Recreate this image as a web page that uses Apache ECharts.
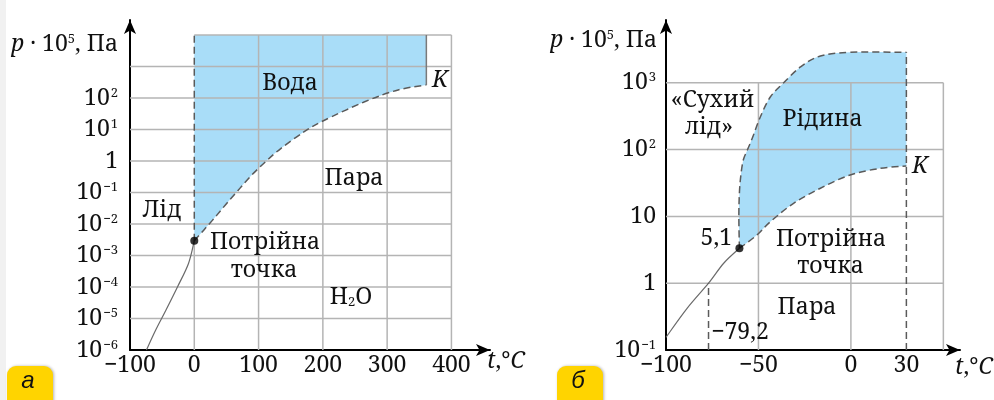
<!DOCTYPE html>
<html>
<head>
<meta charset="utf-8">
<script src="https://cdn.jsdelivr.net/npm/echarts@6/dist/echarts.min.js"></script>
<style>
  html, body { margin: 0; padding: 0; background: #fff; }
  #chart { width: 994px; height: 400px; }
</style>
</head>
<body>
<div id="chart"></div>
<script>
    var SERIF = 'Noto Serif';
    var FS = 23;
    var BLUE = '#a9ddf8', GRID = '#b4b4b4', CURVE = '#5a5a5a';

    // ---- panel a : H2O ----
    var ticksA = [-100, 0, 100, 200, 300, 400];
    var expA = [-6, -5, -4, -3, -2, -1, 0, 1, 2];
    var gridXA = [100, 200, 300, 400];
    var gridExpA = [-5, -4, -3, -2, -1, 0, 1, 2, 3];
    var topA = 1e4;
    var tripleA = [0, 0.00295];
    var critA = [361, 259];
    var vapA = [[0, 0.00295], [15, 0.0065], [32, 0.0161], [49, 0.0416], [68, 0.116], [88, 0.334],
                [112, 1.0], [135, 2.53], [171, 8.5], [200, 18.6], [265, 76], [317, 180], [361, 259]];
    var subA = [[-74.5, 1e-6], [-60, 4.3e-6], [-44, 1.86e-5], [-26, 1.02e-4], [-9, 5.6e-4], [0, 0.00295]];

    // ---- panel b : CO2 ----
    var ticksB = [-100, -50, 0, 30];
    var expB = [-1, 0, 1, 2, 3];
    var gridXB = [-50, 0, 50];
    var gridExpB = [0, 1, 2, 3];
    var tripleB = [-60.3, 3.33];
    var critB = [30, 57];
    var sublT = -77;   // позначка −79,2
    var vapB = [[-60.3, 3.33], [-50.8, 5.27], [-43.6, 8.3], [-31, 15.7], [-16.5, 26.4], [-0.4, 41.7], [16, 52.5], [30, 57]];
    var subB = [[-100, 0.155], [-88.6, 0.42], [-77, 1.0], [-68.8, 1.99], [-60.3, 3.33]];
    var meltB = [[-60.3, 3.33], [-60.6, 9.8], [-60.3, 22.4], [-59.5, 41.7], [-58.2, 69.8], [-56, 98.6], [-53.3, 149],
                 [-49, 308], [-43.6, 612], [-36.5, 993], [-27.3, 1725], [-16.5, 2520], [-0.3, 2860], [30, 2860]];

    var chart = echarts.init(document.getElementById('chart'));

    var richNum = {
        b: { fontFamily: SERIF, fontSize: FS, color: '#111' },
        s: { fontFamily: SERIF, fontSize: 13, color: '#111', verticalAlign: 'top', padding: [0, 0, 0, 1] }
    };

    function minus(v) { return v < 0 ? '\u2212' + (-v) : '' + v; }
    function pow10(e) { return Math.pow(10, e); }

    function powLabel(v, plainTen) {
        var e = Math.round(Math.log(v) / Math.LN10);
        if (e === 0) return '1';
        if (e === 1 && plainTen) return '10';
        return '{b|10}{s|' + minus(e) + '}';
    }

    function xAxisOpt(idx, min, max, ticks) {
        return {
            gridIndex: idx, type: 'value', min: min, max: max,
            axisLine: { onZero: false, symbol: ['none', 'arrow'], symbolSize: [9, 14], lineStyle: { color: '#000', width: 2 } },
            axisTick: { show: false },
            splitLine: { show: false },
            axisLabel: {
                customValues: ticks, margin: 4, fontFamily: SERIF, fontSize: FS, color: '#111', hideOverlap: false,
                formatter: function (v) { return minus(v); }
            }
        };
    }

    function yAxisOpt(idx, min, max, exps, plainTen, margin) {
        return {
            gridIndex: idx, type: 'log', logBase: 10, min: min, max: max,
            axisLine: { onZero: false, symbol: ['none', 'arrow'], symbolSize: [9, 14], lineStyle: { color: '#000', width: 2 } },
            axisTick: { show: false },
            splitLine: { show: false },
            axisLabel: {
                customValues: exps.map(pow10),
                margin: margin, fontFamily: SERIF, fontSize: FS, color: '#111', rich: richNum, hideOverlap: false,
                formatter: function (v) { return powLabel(v, plainTen); }
            }
        };
    }

    var series = [];

    function seg(i, pts, style, z) {
        series.push({
            type: 'line', xAxisIndex: i, yAxisIndex: i, data: pts, symbol: 'none', silent: true,
            z: z, lineStyle: style, animation: false
        });
    }

    // Catmull-Rom -> bezier, pixel points
    function px(p) { return p[0].toFixed(2) + ' ' + p[1].toFixed(2); }
    function crSegs(p) {
        var d = '';
        for (var i = 0; i < p.length - 1; i++) {
            var p0 = p[i - 1] || p[i], p1 = p[i], p2 = p[i + 1], p3 = p[i + 2] || p[i + 1];
            var c1 = [p1[0] + (p2[0] - p0[0]) / 6, p1[1] + (p2[1] - p0[1]) / 6];
            var c2 = [p2[0] - (p3[0] - p1[0]) / 6, p2[1] - (p3[1] - p1[1]) / 6];
            d += ' C' + px(c1) + ' ' + px(c2) + ' ' + px(p2);
        }
        return d;
    }

    function customSeries(i, z, build, style) {
        series.push({
            type: 'custom', xAxisIndex: i, yAxisIndex: i, data: [[0, 1]], z: z, silent: true, animation: false,
            renderItem: function (params, api) {
                var c = function (p) { return api.coord(p); };
                return { type: 'path', shape: { pathData: build(c) }, style: style };
            }
        });
    }

    var gridStyle = { color: GRID, width: 1.5 };
    var dashStyle = { color: CURVE, width: 1.5, type: [7, 4] };
    var dashPath = { fill: 'none', stroke: CURVE, lineWidth: 1.5, lineDash: [7, 4] };
    var thinPath = { fill: 'none', stroke: '#6a6a6a', lineWidth: 1.2 };

    // fills
    customSeries(0, 1, function (c) {
        var v = vapA.slice().reverse().map(c);
        return 'M' + px(c([0, topA])) + ' L' + px(c([critA[0], topA])) + ' L' + px(v[0]) + crSegs(v) + ' Z';
    }, { fill: BLUE });
    customSeries(1, 1, function (c) {
        var m = meltB.map(c), v = vapB.slice().reverse().map(c);
        return 'M' + px(m[0]) + crSegs(m) + ' L' + px(v[0]) + crSegs(v) + ' Z';
    }, { fill: BLUE });

    // grid lines, panel a
    gridExpA.forEach(function (e) { seg(0, [[-100, pow10(e)], [400, pow10(e)]], gridStyle, 2); });
    seg(0, [[0, topA], [400, topA]], gridStyle, 2);
    gridXA.forEach(function (x) { seg(0, [[x, 1e-6], [x, topA]], gridStyle, 2); });
    seg(0, [[0, 1e-6], tripleA], gridStyle, 2);
    // grid lines, panel b
    gridExpB.forEach(function (e) { seg(1, [[-100, pow10(e)], [50, pow10(e)]], gridStyle, 2); });
    gridXB.forEach(function (x) { seg(1, [[x, 0.1], [x, 1000]], gridStyle, 2); });

    // phase curves
    function curve(i, pts, style) {
        customSeries(i, 3, function (c) { var p = pts.map(c); return 'M' + px(p[0]) + crSegs(p); }, style);
    }
    curve(0, vapA, dashPath);
    curve(0, subA, thinPath);
    seg(0, [tripleA, [0, topA]], dashStyle, 3);
    seg(0, [[critA[0], topA], critA], { color: '#7a7a7a', width: 1.5 }, 3);
    curve(1, meltB, dashPath);
    curve(1, vapB, dashPath);
    curve(1, subB, thinPath);
    seg(1, [[critB[0], 0.1], [critB[0], meltB[meltB.length - 1][1]]], dashStyle, 3);
    seg(1, [[sublT, 0.1], [sublT, 1]], dashStyle, 3);

    series.push({ type: 'scatter', xAxisIndex: 0, yAxisIndex: 0, data: [tripleA], symbolSize: 8, itemStyle: { color: '#000' }, z: 5, silent: true });
    series.push({ type: 'scatter', xAxisIndex: 1, yAxisIndex: 1, data: [tripleB], symbolSize: 8, itemStyle: { color: '#000' }, z: 5, silent: true });

    function txt(s, x, y, extra) {
        var st = {
            text: s, fontFamily: SERIF, fontSize: FS, fill: '#111',
            align: 'center', verticalAlign: 'middle', textAlign: 'center', textVerticalAlign: 'middle'
        };
        for (var k in extra) st[k] = extra[k];
        return { type: 'text', x: x, y: y, z: 100, silent: true, style: st };
    }

    var richName = {
        i: { fontFamily: SERIF, fontSize: FS, fontStyle: 'italic', fill: '#111' },
        n: { fontFamily: SERIF, fontSize: FS, fill: '#111' },
        s: { fontFamily: SERIF, fontSize: 13, fill: '#111', verticalAlign: 'top' },
        u: { fontFamily: SERIF, fontSize: 13, fill: '#111', verticalAlign: 'bottom', lineHeight: 6 }
    };
    var pName = '{i|p}{n| \u00b7 10}{s|5}{n|, Па}';
    var tName = '{i|t}{n|,°}{i|C}';

    function badge(x, letter) {
        return [
            {
                type: 'rect', z: 100, silent: true, shape: { x: x, y: 366, width: 46, height: 50, r: 9 },
                style: { fill: '#ffd400', shadowBlur: 3, shadowOffsetX: 1, shadowColor: 'rgba(0,0,0,0.3)' }
            },
            txt(letter, x + 21, 381, { fontFamily: 'Liberation Sans', fontStyle: 'italic', fontSize: 24 })
        ];
    }

    var graphics = [
        { type: 'rect', z: 0, silent: true, shape: { x: 0, y: 0, width: 6, height: 400 }, style: { fill: '#f1f1f1' } },
        txt(pName, 118, 44, { rich: richName, align: 'right', textAlign: 'right' }),
        txt(pName, 657, 40, { rich: richName, align: 'right', textAlign: 'right' }),
        txt(tName, 487, 361, { rich: richName, align: 'left', textAlign: 'left' }),
        txt(tName, 955, 367, { rich: richName, align: 'left', textAlign: 'left' }),
        txt('Вода', 290, 83.5),
        txt('K', 440, 80, { fontStyle: 'italic' }),
        txt('Пара', 354, 178.5),
        txt('Лід', 162, 210),
        txt('Потрійна', 265, 242),
        txt('точка', 264, 270),
        txt('{n|H}{u|2}{n|O}', 351, 297, { rich: richName }),
        txt('«Сухий', 712.5, 100.5),
        txt('лід»', 709, 127),
        txt('Рідина', 822.5, 119),
        txt('K', 920, 166, { fontStyle: 'italic' }),
        txt('5,1', 732, 238, { align: 'right', textAlign: 'right' }),
        txt('Потрійна', 831, 239),
        txt('точка', 830.5, 266),
        txt('Пара', 807, 307),
        txt('\u221279,2', 740, 332)
    ].concat(badge(7, 'а'), badge(557, 'б'));

    chart.setOption({
        animation: false,
        backgroundColor: '#fff',
        grid: [
            { left: 130, top: 20, width: 360, height: 330, outerBoundsMode: 'none', containLabel: false },
            { left: 666, top: 20, width: 294, height: 330, outerBoundsMode: 'none', containLabel: false }
        ],
        xAxis: [
            xAxisOpt(0, -100, 460, ticksA),
            xAxisOpt(1, -100, 59, ticksB)
        ],
        yAxis: [
            yAxisOpt(0, 1e-6, Math.pow(10, 4.476), expA, false, 12),
            yAxisOpt(1, 0.1, Math.pow(10, 3.94), expB, true, 10)
        ],
        series: series,
        graphic: { elements: graphics }
    });
</script>
</body>
</html>
